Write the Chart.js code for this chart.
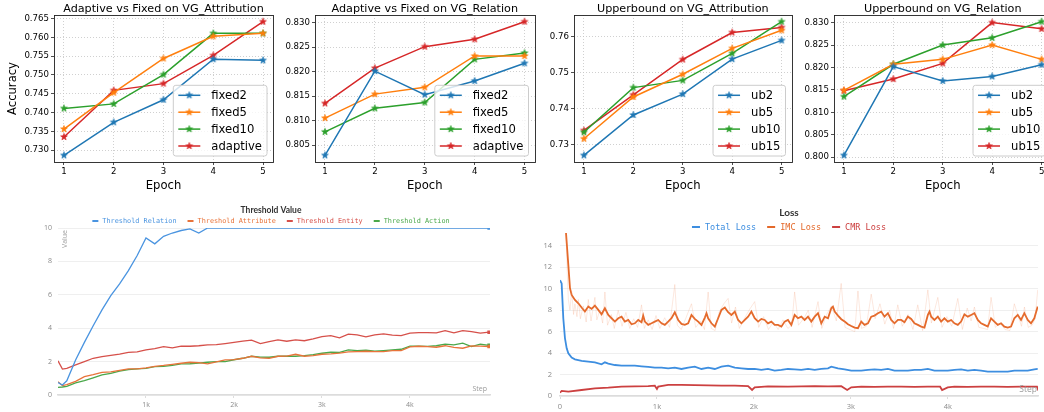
<!DOCTYPE html>
<html><head><meta charset="utf-8">
<script src="https://cdn.jsdelivr.net/npm/chart.js@4.4.1/dist/chart.umd.min.js"></script>
<style>
html,body{margin:0;padding:0;background:#fff;width:1044px;height:412px;overflow:hidden;position:relative}
canvas{position:absolute}
</style></head><body>
<canvas id="c1" width="280" height="200" style="left:0px;top:0px"></canvas>
<canvas id="c2" width="265" height="200" style="left:275px;top:0px"></canvas>
<canvas id="c3" width="262" height="200" style="left:535px;top:0px"></canvas>
<canvas id="c4" width="262" height="200" style="left:795px;top:0px"></canvas>
<canvas id="c5" width="520" height="217" style="left:0px;top:195px"></canvas>
<canvas id="c6" width="519" height="217" style="left:525px;top:195px"></canvas>
<script>
// ---------------- DATA ----------------
const epochs = [1, 2, 3, 4, 5];
const epochLabels = ['1', '2', '3', '4', '5'];

const fixedNames = ['fixed2', 'fixed5', 'fixed10', 'adaptive'];
const ubNames = ['ub2', 'ub5', 'ub10', 'ub15'];

const attrFixed2   = [0.7286, 0.7374, 0.7434, 0.7542, 0.7539];
const attrFixed5   = [0.7356, 0.7453, 0.7544, 0.7603, 0.7611];
const attrFixed10  = [0.7411, 0.7423, 0.7501, 0.7611, 0.7611];
const attrAdaptive = [0.7335, 0.7459, 0.7477, 0.7552, 0.7642];

const relFixed2   = [0.8029, 0.8201, 0.8153, 0.8181, 0.8217];
const relFixed5   = [0.8105, 0.8154, 0.8168, 0.8232, 0.8232];
const relFixed10  = [0.8077, 0.8125, 0.8137, 0.8225, 0.8238];
const relAdaptive = [0.8135, 0.8207, 0.8251, 0.8266, 0.8302];

const ubAttr2  = [0.7270, 0.7382, 0.7440, 0.7537, 0.7589];
const ubAttr5  = [0.7316, 0.7432, 0.7495, 0.7567, 0.7617];
const ubAttr10 = [0.7334, 0.7458, 0.7478, 0.7553, 0.7641];
const ubAttr15 = [0.7339, 0.7438, 0.7536, 0.7611, 0.7625];

const ubRel2  = [0.8004, 0.8202, 0.8170, 0.8180, 0.8206];
const ubRel5  = [0.8149, 0.8207, 0.8218, 0.8250, 0.8218];
const ubRel10 = [0.8135, 0.8207, 0.8250, 0.8266, 0.8302];
const ubRel15 = [0.8148, 0.8174, 0.8209, 0.8300, 0.8286];

const attrTicks  = [0.730, 0.735, 0.740, 0.745, 0.750, 0.755, 0.760, 0.765];
const attrLabels = ['0.730', '0.735', '0.740', '0.745', '0.750', '0.755', '0.760', '0.765'];
const relTicks   = [0.805, 0.810, 0.815, 0.820, 0.825, 0.830];
const relLabels  = ['0.805', '0.810', '0.815', '0.820', '0.825', '0.830'];
const ubAttrTicks  = [0.73, 0.74, 0.75, 0.76];
const ubAttrLabels = ['0.73', '0.74', '0.75', '0.76'];
const ubRelTicks  = [0.800, 0.805, 0.810, 0.815, 0.820, 0.825, 0.830];
const ubRelLabels = ['0.800', '0.805', '0.810', '0.815', '0.820', '0.825', '0.830'];

// Threshold Value panel (training steps)
const thrSteps = [0, 50, 100, 200, 300, 400, 500, 600, 700, 800, 900, 1000, 1100, 1200, 1300, 1400, 1500, 1600, 1700,
  1800, 1900, 2000, 2100, 2200, 2300, 2400, 2500, 2600, 2700, 2800, 2900, 3000, 3100, 3200, 3300, 3400, 3500,
  3600, 3700, 3800, 3900, 4000, 4100, 4200, 4300, 4400, 4500, 4600, 4700, 4800, 4900];
const thrRelation = [0.75, 0.6, 0.85, 2.1, 3.15, 4.15, 5.1, 5.95, 6.65, 7.45, 8.35, 9.4, 9.05, 9.5, 9.7, 9.85, 9.95, 9.7, 10,
  10, 10, 10, 10, 10, 10, 10, 10, 10, 10, 10, 10, 10, 10, 10, 10, 10, 10,
  10, 10, 10, 10, 10, 10, 10, 10, 10, 10, 10, 10, 10, 10];
const thrAttribute = [0.8, 0.56, 0.62, 0.82, 1.1, 1.22, 1.36, 1.38, 1.48, 1.56, 1.57, 1.63, 1.72, 1.77, 1.84, 1.9, 1.96, 1.94, 1.87,
  1.98, 2.1, 2.12, 2.2, 2.32, 2.22, 2.2, 2.32, 2.33, 2.44, 2.32, 2.36, 2.44, 2.46, 2.51, 2.58, 2.6, 2.62,
  2.6, 2.6, 2.66, 2.66, 2.88, 2.92, 2.9, 2.86, 2.95, 2.85, 2.8, 2.94, 2.93, 2.9];
const thrEntity = [2.05, 1.55, 1.6, 1.8, 2.0, 2.2, 2.3, 2.37, 2.45, 2.55, 2.58, 2.7, 2.78, 2.9, 2.82, 2.92, 2.92, 2.95, 3.0,
  3.02, 3.08, 3.15, 3.22, 3.28, 3.08, 3.2, 3.3, 3.22, 3.3, 3.25, 3.36, 3.5, 3.55, 3.42, 3.64, 3.6, 3.48,
  3.6, 3.66, 3.58, 3.56, 3.7, 3.74, 3.74, 3.72, 3.85, 3.72, 3.86, 3.8, 3.7, 3.76];
const thrAction = [0.46, 0.48, 0.52, 0.72, 0.86, 1.03, 1.2, 1.3, 1.43, 1.52, 1.57, 1.6, 1.7, 1.71, 1.77, 1.86, 1.87, 1.91, 1.96,
  2.0, 2.0, 2.11, 2.2, 2.32, 2.27, 2.26, 2.32, 2.33, 2.32, 2.36, 2.42, 2.5, 2.56, 2.55, 2.7, 2.66, 2.68,
  2.63, 2.66, 2.7, 2.74, 2.92, 2.92, 2.91, 2.95, 3.05, 3.0, 3.1, 2.9, 3.04, 2.97];
const thrYTicks = [0, 2, 4, 6, 8, 10];
const thrYLabels = ['0', '2', '4', '6', '8', '10'];
const thrXTicks = [1000, 2000, 3000, 4000];
const thrXLabels = ['1k', '2k', '3k', '4k'];

// Loss panel
const totalSteps = [0, 17, 34, 51, 69, 86, 120, 154, 223, 292, 360, 429, 463, 498, 566, 635, 704, 772, 841, 910, 978,
  1047, 1116, 1184, 1253, 1322, 1390, 1459, 1528, 1597, 1665, 1734, 1803, 1871, 1940, 2008, 2077, 2145, 2214, 2283, 2351,
  2420, 2489, 2558, 2627, 2695, 2764, 2798, 2867, 2936, 3004, 3107, 3176, 3244, 3313, 3382, 3450, 3519, 3588, 3656, 3725,
  3794, 3862, 3931, 4000, 4068, 4137, 4206, 4274, 4343, 4412, 4480, 4549, 4618, 4686, 4755, 4824, 4892, 4927];
const totalLoss = [10.8, 10.5, 7.25, 5.4, 4.45, 3.98, 3.58, 3.42, 3.27, 3.2, 3.14, 2.96, 3.14, 3.02, 2.89, 2.83, 2.83, 2.83, 2.77, 2.71, 2.64,
  2.64, 2.58, 2.64, 2.52, 2.64, 2.74, 2.52, 2.64, 2.52, 2.74, 2.83, 2.64, 2.58, 2.52, 2.52, 2.43, 2.52, 2.36, 2.43, 2.52,
  2.49, 2.43, 2.52, 2.43, 2.52, 2.58, 2.74, 2.58, 2.49, 2.36, 2.36, 2.43, 2.49, 2.43, 2.52, 2.36, 2.36, 2.36, 2.43, 2.43,
  2.52, 2.36, 2.36, 2.36, 2.43, 2.49, 2.36, 2.43, 2.36, 2.27, 2.27, 2.27, 2.27, 2.36, 2.36, 2.36, 2.49, 2.52];

const imcSteps = [62, 86, 103, 120, 154, 189, 223, 257, 292, 326, 360, 395, 429, 463, 498, 532, 566, 601, 635, 669,
  704, 738, 772, 807, 841, 858, 875, 910, 944, 978, 1013, 1047, 1081, 1116, 1150, 1184, 1219, 1253, 1287, 1322,
  1356, 1390, 1425, 1459, 1494, 1511, 1528, 1562, 1597, 1631, 1665, 1700, 1734, 1768, 1803, 1837, 1871, 1906, 1940, 1974,
  2008, 2043, 2077, 2111, 2145, 2180, 2214, 2248, 2283, 2317, 2351, 2386, 2420, 2454, 2489, 2523, 2558, 2592, 2627, 2661,
  2695, 2730, 2764, 2798, 2815, 2833, 2867, 2901, 2936, 2970, 3004, 3039, 3073, 3107, 3141, 3176, 3210, 3244, 3279, 3313,
  3347, 3382, 3416, 3450, 3485, 3519, 3553, 3588, 3622, 3656, 3691, 3725, 3759, 3794, 3811, 3828, 3862, 3897, 3931, 3965,
  4000, 4034, 4068, 4103, 4137, 4171, 4206, 4240, 4274, 4309, 4343, 4377, 4412, 4446, 4480, 4515, 4549, 4583, 4618, 4652,
  4686, 4721, 4755, 4789, 4824, 4858, 4892, 4927];
const imcLoss = [15.2, 12.2, 10.05, 9.43, 8.96, 8.65, 8.25, 7.87, 8.34, 8.12, 8.43, 8.03, 7.62, 8.18, 7.56, 7.25, 6.94, 7.25, 7.4, 6.94,
  7.09, 6.69, 6.78, 7.09, 6.88, 7.5, 6.94, 6.63, 6.78, 6.94, 7.09, 6.78, 6.63, 6.94, 7.25, 7.81, 7.09, 6.72, 6.63, 6.78,
  7.56, 7.19, 6.94, 6.63, 7.31, 7.72, 7.25, 6.78, 6.47, 7.25, 8.03, 8.25, 7.81, 7.56, 7.87, 7.09, 6.78, 7.09, 7.4, 7.87,
  7.25, 6.94, 7.19, 7.09, 6.78, 6.94, 6.63, 6.63, 6.47, 6.94, 7.09, 6.63, 7.56, 7.25, 7.4, 7.09, 7.4, 6.94, 7.4, 7.72,
  6.78, 7.4, 7.25, 8.18, 8.34, 7.87, 7.5, 7.16, 6.94, 6.69, 6.53, 6.38, 6.32, 6.94, 6.63, 6.78, 7.4, 7.5, 7.72, 7.87,
  7.4, 7.72, 7.09, 6.78, 7.09, 7.09, 6.88, 7.4, 7.19, 6.78, 6.63, 6.47, 6.38, 7.56, 7.87, 7.4, 7.09, 7.4, 6.94, 7.25,
  6.94, 7.09, 6.78, 6.63, 6.94, 7.62, 7.4, 7.56, 7.72, 7.09, 6.78, 6.63, 6.47, 7.25, 6.94, 6.63, 6.78, 6.47, 6.38, 6.47,
  7.25, 7.56, 7.09, 7.72, 7.09, 6.78, 7.25, 8.34];

// faint raw (unsmoothed) IMC loss behind the smoothed line
const imcRawSteps = [62, 75, 86, 103, 120, 140, 154, 175, 189, 210, 240, 270, 292, 320, 360, 380, 410, 440, 463, 490,
  530, 560, 600, 640, 680, 720, 760, 800, 841, 870, 910, 950, 990, 1030, 1080, 1130, 1184, 1210, 1250, 1300,
  1356, 1400, 1450, 1490, 1528, 1560, 1600, 1640, 1690, 1734, 1770, 1810, 1850, 1900, 1950, 2008, 2050, 2100, 2150, 2200,
  2250, 2300, 2350, 2390, 2420, 2460, 2520, 2560, 2600, 2661, 2700, 2750, 2800, 2850, 2900, 2940, 2990, 3040, 3073, 3110,
  3160, 3210, 3250, 3300, 3350, 3400, 3440, 3484, 3530, 3590, 3640, 3690, 3740, 3794, 3830, 3897, 3940, 3990, 4040, 4103,
  4150, 4200, 4240, 4274, 4320, 4370, 4410, 4446, 4490, 4540, 4590, 4640, 4686, 4720, 4760, 4790, 4830, 4870, 4900, 4927];
const imcRaw = [15.2, 11.5, 9.0, 8.0, 9.8, 7.6, 8.6, 7.4, 9.0, 7.2, 8.4, 6.9, 9.0, 7.0, 9.2, 7.1, 8.0, 6.8, 9.7, 6.6,
  7.6, 6.3, 8.0, 6.5, 7.8, 6.3, 7.2, 6.4, 8.5, 6.3, 7.1, 6.2, 7.5, 6.3, 7.3, 6.4, 10.4, 6.6, 6.2, 7.3,
  8.6, 6.4, 7.0, 6.2, 9.7, 6.3, 6.1, 7.8, 8.6, 9.1, 6.8, 8.3, 6.3, 7.2, 8.0, 8.8, 6.4, 7.4, 6.2, 6.9,
  6.2, 7.1, 6.3, 6.6, 9.7, 6.6, 7.3, 8.0, 6.4, 8.8, 6.3, 7.6, 8.4, 7.0, 10.5, 6.4, 6.2, 6.0, 9.8, 6.3,
  6.5, 9.5, 7.2, 8.6, 6.7, 8.0, 6.3, 8.5, 6.5, 7.6, 6.2, 8.5, 6.1, 9.9, 6.8, 9.2, 6.4, 7.4, 6.5, 9.1,
  6.2, 8.2, 7.0, 8.3, 6.4, 6.3, 6.2, 9.2, 6.4, 6.8, 6.2, 6.1, 8.6, 7.6, 6.5, 8.3, 6.4, 6.6, 7.2, 9.9];

const cmrSteps = [0, 17, 86, 223, 360, 498, 635, 772, 910, 978, 1000, 1013, 1116, 1253, 1390, 1528, 1665, 1803, 1940, 1981,
  2008, 2145, 2351, 2489, 2627, 2764, 2901, 2962, 3004, 3107, 3244, 3382, 3519, 3656, 3794, 3920, 3941, 3999, 4068, 4206,
  4343, 4480, 4618, 4755, 4892, 4920, 4935];
const cmrLoss = [0.31, 0.47, 0.4, 0.56, 0.72, 0.78, 0.87, 0.9, 0.93, 0.96, 0.65, 0.87, 1.03, 1.03, 1.01, 1.0, 0.96, 0.96, 0.93, 0.56,
  0.81, 0.9, 0.88, 0.9, 0.92, 0.9, 0.91, 0.56, 0.81, 0.87, 0.86, 0.88, 0.87, 0.86, 0.88, 0.87, 0.56, 0.81, 0.87, 0.86,
  0.88, 0.87, 0.86, 0.88, 0.87, 0.87, 0.5];
const lossYTicks = [0, 2, 4, 6, 8, 10, 12, 14];
const lossYLabels = ['0', '2', '4', '6', '8', '10', '12', '14'];
const lossXTicks = [0, 1000, 2000, 3000, 4000];
const lossXLabels = ['0', '1k', '2k', '3k', '4k'];

// ---------------- STYLE / HELPERS ----------------
const TAB = ['#1f77b4', '#ff7f0e', '#2ca02c', '#d62728'];
const MPL_FONT = '"DejaVu Sans"';

function starImg(color, r) {
  const s = Math.ceil(r * 2 + 2);
  const c = document.createElement('canvas');
  c.width = s; c.height = s;
  const g = c.getContext('2d');
  g.beginPath();
  for (let i = 0; i < 10; i++) {
    const ang = -Math.PI / 2 + i * Math.PI / 5;
    const rr = i % 2 === 0 ? r : r * 0.42;
    g.lineTo(s / 2 + rr * Math.cos(ang), s / 2 + rr * Math.sin(ang));
  }
  g.closePath();
  g.fillStyle = color; g.fill();
  g.lineWidth = 0.6; g.strokeStyle = color; g.stroke();
  return c;
}
const STARS = TAB.map(c => starImg(c, 3.6));

const mplDeco = {
  id: 'mplDeco',
  afterDraw(chart, args, o) {
    const { ctx, chartArea: a } = chart;
    ctx.save();
    ctx.strokeStyle = '#222'; ctx.lineWidth = 0.9;
    ctx.strokeRect(Math.round(a.left) + 0.5, Math.round(a.top) + 0.5, Math.round(a.right - a.left), Math.round(a.bottom - a.top));
    ctx.fillStyle = '#000';
    ctx.font = '11.2px ' + MPL_FONT;
    ctx.textAlign = 'center'; ctx.textBaseline = 'alphabetic';
    ctx.fillText(o.title, (a.left + a.right) / 2, 11.5);
    // legend
    ctx.font = '11.6px ' + MPL_FONT;
    const ds = chart.data.datasets;
    const tw = Math.max(...ds.map(d => ctx.measureText(d.label).width));
    const pad = 5, hl = 22, htp = 11, rowH = 16.9;
    const w = pad + hl + htp + tw + pad;
    const h = 20 + rowH * (ds.length - 1);
    const x0 = a.right - 6 - w, y0 = a.bottom - 6 - h;
    ctx.beginPath();
    if (ctx.roundRect) ctx.roundRect(x0, y0, w, h, 2.5); else ctx.rect(x0, y0, w, h);
    ctx.fillStyle = 'rgba(255,255,255,0.8)'; ctx.fill();
    ctx.strokeStyle = '#cccccc'; ctx.lineWidth = 1; ctx.stroke();
    ds.forEach((d, i) => {
      const cy = y0 + 10 + i * rowH;
      ctx.strokeStyle = d.borderColor; ctx.lineWidth = 1.5;
      ctx.beginPath(); ctx.moveTo(x0 + pad, cy); ctx.lineTo(x0 + pad + hl, cy); ctx.stroke();
      const img = d.pointStyle;
      ctx.drawImage(img, x0 + pad + hl / 2 - img.width / 2, cy - img.height / 2);
      ctx.fillStyle = '#000'; ctx.textAlign = 'left'; ctx.textBaseline = 'middle';
      ctx.fillText(d.label, x0 + pad + hl + htp, cy + 0.5);
    });
    ctx.restore();
  }
};

function marginRange(arrs) {
  const all = [].concat(...arrs);
  const mn = Math.min(...all), mx = Math.max(...all), r = mx - mn;
  return [mn - 0.05 * r, mx + 0.05 * r];
}

function topChart(id, canvasLeft, canvasWidth, axL, axR, title, names, series, yTicks, yLabels, yTitle) {
  const [ymin, ymax] = marginRange(series);
  return new Chart(document.getElementById(id), {
    type: 'line',
    data: {
      datasets: series.map((s, i) => ({
        label: names[i],
        data: epochs.map((e, j) => ({ x: e, y: s[j] })),
        borderColor: TAB[i], backgroundColor: TAB[i],
        borderWidth: 1.5, pointStyle: STARS[i], pointRadius: 4, tension: 0
      }))
    },
    options: {
      responsive: false, animation: false, devicePixelRatio: 1,
      layout: { padding: { top: 15, left: 0, bottom: 0, right: canvasWidth - (axR - canvasLeft) } },
      plugins: { legend: { display: false }, tooltip: { enabled: false }, mplDeco: { title } },
      scales: {
        x: {
          type: 'linear', min: 0.8, max: 5.2,
          afterBuildTicks: sc => { sc.ticks = epochs.map(v => ({ value: v })); },
          afterFit: sc => { sc.height = 38; },
          ticks: { callback: (v, i) => epochLabels[i], font: { family: 'DejaVu Sans', size: 8.6 }, color: '#000', padding: 2, maxRotation: 0, autoSkip: false },
          grid: { color: '#c4c4c4', lineWidth: 0.8, tickColor: '#222', tickLength: 3, tickWidth: 0.8 },
          border: { display: false, dash: [1, 2] },
          title: { display: true, text: 'Epoch', font: { family: 'DejaVu Sans', size: 11.6 }, color: '#000', padding: { top: 0, bottom: 7 } }
        },
        y: {
          type: 'linear', min: ymin, max: ymax,
          afterBuildTicks: sc => { sc.ticks = yTicks.map(v => ({ value: v })); },
          afterFit: sc => { sc.width = axL - canvasLeft; },
          ticks: { callback: (v, i) => yLabels[i], font: { family: 'DejaVu Sans', size: 8.6 }, color: '#000', padding: 2, autoSkip: false },
          grid: { color: '#c4c4c4', lineWidth: 0.8, tickColor: '#222', tickLength: 3, tickWidth: 0.8 },
          border: { display: false, dash: [1, 2] },
          title: { display: !!yTitle, text: yTitle || '', font: { family: 'DejaVu Sans', size: 11.6 }, color: '#000', padding: { top: 6, bottom: 0 } }
        }
      }
    },
    plugins: [mplDeco]
  });
}

topChart('c1', 0, 280, 54, 273, 'Adaptive vs Fixed on VG_Attribution', fixedNames,
  [attrFixed2, attrFixed5, attrFixed10, attrAdaptive], attrTicks, attrLabels, 'Accuracy');
topChart('c2', 275, 265, 315, 535, 'Adaptive vs Fixed on VG_Relation', fixedNames,
  [relFixed2, relFixed5, relFixed10, relAdaptive], relTicks, relLabels, null);
topChart('c3', 535, 262, 574, 793, 'Upperbound on VG_Attribution', ubNames,
  [ubAttr2, ubAttr5, ubAttr10, ubAttr15], ubAttrTicks, ubAttrLabels, null);
topChart('c4', 795, 262, 834, 1053, 'Upperbound on VG_Relation', ubNames,
  [ubRel2, ubRel5, ubRel10, ubRel15], ubRelTicks, ubRelLabels, null);

// ---------- wandb-style panels ----------
const wandbDeco = {
  id: 'wandbDeco',
  afterDraw(chart, args, o) {
    const { ctx, chartArea: a } = chart;
    ctx.save();
    ctx.fillStyle = '#333'; ctx.font = o.titleFont;
    ctx.textAlign = 'center'; ctx.textBaseline = 'middle';
    ctx.fillText(o.title, o.cx, o.titleY);
    ctx.font = o.legendFont;
    const items = chart.data.datasets.filter(d => d.label);
    const widths = items.map(d => ctx.measureText(d.label).width);
    const total = widths.reduce((s, w) => s + o.dashW + o.dashGap + w, 0) + o.itemGap * (items.length - 1);
    let x = o.cx - total / 2;
    items.forEach((d, i) => {
      ctx.fillStyle = d.borderColor;
      ctx.fillRect(x, o.legendY - 1, o.dashW, 2);
      x += o.dashW + o.dashGap;
      ctx.textAlign = 'left';
      ctx.fillText(d.label, x, o.legendY + 0.5);
      x += widths[i] + o.itemGap;
    });
    ctx.fillStyle = '#9a9a9a'; ctx.font = o.axisFont;
    ctx.textAlign = 'right'; ctx.textBaseline = 'middle';
    ctx.fillText('Step', a.right - o.stepDx, a.bottom - o.stepDy);
    if (o.valueLabel) {
      ctx.translate(a.left + 7, a.top + 11);
      ctx.rotate(-Math.PI / 2);
      ctx.textAlign = 'center';
      ctx.fillText('Value', 0, 0);
    }
    ctx.restore();
  }
};

function endDot(r) {
  return ctx => (ctx.dataIndex === ctx.dataset.data.length - 1 ? r : 0);
}

function wandbChart(id, opts) {
  return new Chart(document.getElementById(id), {
    type: 'line',
    data: {
      datasets: opts.series.map(s => ({
        label: s.label,
        data: s.x.map((xv, j) => ({ x: xv, y: s.y[j] })),
        borderColor: s.color, backgroundColor: s.color,
        borderWidth: s.width, pointRadius: endDot(s.dot), pointHoverRadius: 0, pointStyle: 'rect',
        tension: 0
      }))
    },
    options: {
      responsive: false, animation: false, devicePixelRatio: 1,
      layout: { padding: { top: opts.padTop, left: 0, bottom: 0, right: opts.padRight } },
      plugins: { legend: { display: false }, tooltip: { enabled: false }, wandbDeco: opts.deco },
      scales: {
        x: {
          type: 'linear', min: 0, max: opts.xMax,
          afterBuildTicks: sc => { sc.ticks = opts.xTicks.map(v => ({ value: v })); },
          afterFit: sc => { sc.height = opts.xH; },
          ticks: { callback: (v, i) => opts.xLabels[i], font: { family: 'Open Sans', size: opts.tickSize }, color: '#8a8a8a', padding: 3, maxRotation: 0, autoSkip: false },
          grid: { drawOnChartArea: false, tickColor: '#dddddd', tickLength: 3, tickWidth: 1 },
          border: { display: true, color: '#dcdcdc', width: 1.5 }
        },
        y: {
          type: 'linear', min: 0, max: opts.yMax,
          afterBuildTicks: sc => { sc.ticks = opts.yTicks.map(v => ({ value: v })); },
          afterFit: sc => { sc.width = opts.yW; },
          ticks: { callback: (v, i) => opts.yLabels[i], font: { family: 'Open Sans', size: opts.tickSize }, color: '#8a8a8a', padding: opts.yPad, autoSkip: false },
          grid: { color: '#efefef', lineWidth: 1, drawTicks: false },
          border: { display: false }
        }
      }
    },
    plugins: [wandbDeco]
  });
}

wandbChart('c5', {
  padTop: 33, padRight: 30, xMax: 4910, yMax: 10, xH: 17, yW: 58, yPad: 6, tickSize: 7,
  xTicks: thrXTicks, xLabels: thrXLabels, yTicks: thrYTicks, yLabels: thrYLabels,
  series: [
    { label: 'Threshold Relation', x: thrSteps, y: thrRelation, color: '#4a94e0', width: 1.3, dot: 1.6 },
    { label: 'Threshold Attribute', x: thrSteps, y: thrAttribute, color: '#e8733a', width: 1.3, dot: 1.6 },
    { label: 'Threshold Entity', x: thrSteps, y: thrEntity, color: '#d6504a', width: 1.3, dot: 1.6 },
    { label: 'Threshold Action', x: thrSteps, y: thrAction, color: '#4aa84a', width: 1.3, dot: 1.6 }
  ],
  deco: { title: 'Threshold Value', titleFont: 'bold 8.5px Lato', cx: 271, titleY: 15,
    legendFont: '6.85px "DejaVu Sans Mono"', legendY: 26, dashW: 6, dashGap: 4, itemGap: 11,
    axisFont: '7px "Open Sans"', stepDx: 3, stepDy: 6, valueLabel: true }
});

wandbChart('c6', {
  padTop: 38, padRight: 6, xMax: 4930, yMax: 15.2, xH: 16, yW: 35, yPad: 8, tickSize: 7.5,
  xTicks: lossXTicks, xLabels: lossXLabels, yTicks: lossYTicks, yLabels: lossYLabels,
  series: [
    { label: null, x: imcRawSteps, y: imcRaw, color: 'rgba(240,140,95,0.2)', width: 1, dot: 0 },
    { label: 'Total Loss', x: totalSteps, y: totalLoss, color: '#3d8ee0', width: 1.8, dot: 0 },
    { label: 'IMC Loss', x: imcSteps, y: imcLoss, color: '#e4692a', width: 1.8, dot: 0 },
    { label: 'CMR Loss', x: cmrSteps, y: cmrLoss, color: '#cc4040', width: 1.8, dot: 0 }
  ],
  deco: { title: 'Loss', titleFont: 'bold 10px Lato', cx: 264, titleY: 18,
    legendFont: '8.5px "DejaVu Sans Mono"', legendY: 32, dashW: 8, dashGap: 5, itemGap: 11,
    axisFont: '8.5px "Open Sans"', stepDx: 1, stepDy: 6, valueLabel: false }
});
</script>
</body></html>
